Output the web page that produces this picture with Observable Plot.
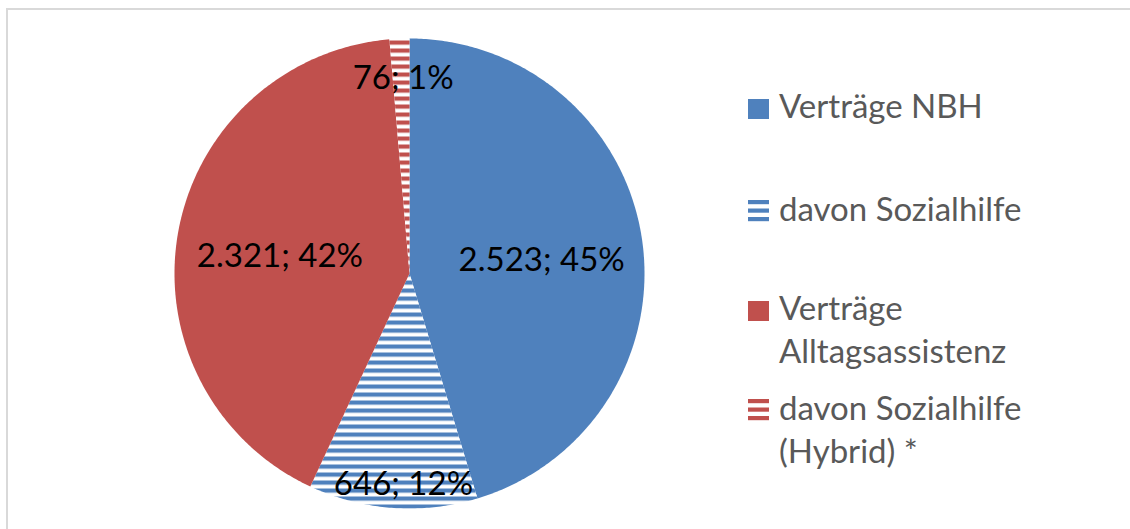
<!DOCTYPE html>
<html><head><meta charset="utf-8">
<script src="https://cdn.jsdelivr.net/npm/d3@7"></script>
<script src="https://cdn.jsdelivr.net/npm/@observablehq/plot@0.6"></script>
<style>
html,body{margin:0;padding:0;background:#fff;overflow:hidden;width:1130px;height:529px;}
#wrap{position:relative;width:1130px;height:529px;overflow:hidden;}
#frame{position:absolute;left:6px;top:8px;width:1140px;height:540px;border:2px solid #d9d9d9;box-sizing:border-box;}
#chart{position:absolute;left:0;top:0;}
#legend{position:absolute;left:0;top:0;}
</style></head><body>
<svg width="0" height="0" style="position:absolute">
  <defs>
    <pattern id="stripeBlue" patternUnits="userSpaceOnUse" width="8" height="8">
      <rect width="8" height="8" fill="#ffffff"/><rect y="0" width="8" height="4.2" fill="#4F81BD"/>
    </pattern>
    <pattern id="stripeRed" patternUnits="userSpaceOnUse" width="8" height="8">
      <rect width="8" height="8" fill="#ffffff"/><rect y="0" width="8" height="4.2" fill="#C0504D"/>
    </pattern>
  </defs>
</svg>
<div id="wrap"><div id="frame"></div><div id="chart"></div><svg id="legend" width="1130" height="529"></svg></div>
<script>
// ---- data ----
const categories = ["Verträge NBH", "davon Sozialhilfe", "Verträge Alltagsassistenz", "davon Sozialhilfe (Hybrid) *"];
const values = [2523, 646, 2321, 76];
const valueLabels = ["2.523", "646", "2.321", "76"];
const percentLabels = ["45%", "12%", "42%", "1%"];
const legendLines = [["Verträge NBH"], ["davon Sozialhilfe"], ["Verträge", "Alltagsassistenz"], ["davon Sozialhilfe", "(Hybrid) *"]];

// ---- styles / layout ----
const fills = ["#4F81BD", "url(#stripeBlue)", "#C0504D", "url(#stripeRed)"];
const legendKinds = [["solid", "#4F81BD"], ["stripe", "#4F81BD"], ["solid", "#C0504D"], ["stripe", "#C0504D"]];
const labelOffsets = [[2, 6], [9, 0], [0, 6], [2, 0]]; // px nudges mimicking Excel best-fit placement

const total = d3.sum(values);
const arcs = d3.pie().sort(null).value(d => d)(values);

// polygon vertices for each slice (unit circle, y up)
const slices = arcs.map((a) => {
  const n = Math.max(4, Math.ceil((a.endAngle - a.startAngle) / 0.01));
  const pts = [{x: 0, y: 0}];
  for (let k = 0; k <= n; k++) {
    const t = a.startAngle + (a.endAngle - a.startAngle) * k / n;
    pts.push({x: Math.sin(t), y: Math.cos(t)});
  }
  return pts;
});

const labels = arcs.map((a, i) => {
  const share = values[i] / total;
  const r = share > 0.2 ? 0.56 : share > 0.05 ? 0.9 : 0.83;
  const m = (a.startAngle + a.endAngle) / 2;
  return {x: Math.sin(m) * r, y: Math.cos(m) * r, text: `${valueLabels[i]}; ${percentLabels[i]}`, dx: labelOffsets[i][0], dy: labelOffsets[i][1]};
});

const chart = Plot.plot({
  width: 1130,
  height: 529,
  margin: 0,
  x: {domain: [-1, 1], range: [174, 644], axis: null},
  y: {domain: [-1, 1], range: [508, 38], axis: null},
  marks: [
    ...slices.map((pts, i) => Plot.line(pts, {x: "x", y: "y", curve: "linear-closed", fill: fills[i], stroke: "none"})),
    ...labels.map(l => Plot.text([l], {x: "x", y: "y", text: "text", fontSize: 33, fontFamily: "Lato", fill: "#000", dx: l.dx, dy: l.dy}))
  ]
});
chart.style.background = "transparent";
document.getElementById("chart").appendChild(chart);

// ---- legend ----
const lg = d3.select("#legend");
const baselines = [[118], [221], [320, 363], [420, 463]];
legendKinds.forEach(([kind, col], i) => {
  const top = baselines[i][0] - 21;
  if (kind === "solid") {
    lg.append("rect").attr("x", 748).attr("y", top + 2).attr("width", 21).attr("height", 20).attr("fill", col);
  } else {
    [0, 8.5, 17].forEach(o => lg.append("rect").attr("x", 748).attr("y", top + o).attr("width", 21).attr("height", 4.2).attr("fill", col));
  }
  legendLines[i].forEach((line, j) => {
    lg.append("text").attr("x", 779).attr("y", baselines[i][j]).attr("font-family", "Lato").attr("font-size", 33).attr("fill", "#595959").text(line);
  });
});
</script>
</body></html>
